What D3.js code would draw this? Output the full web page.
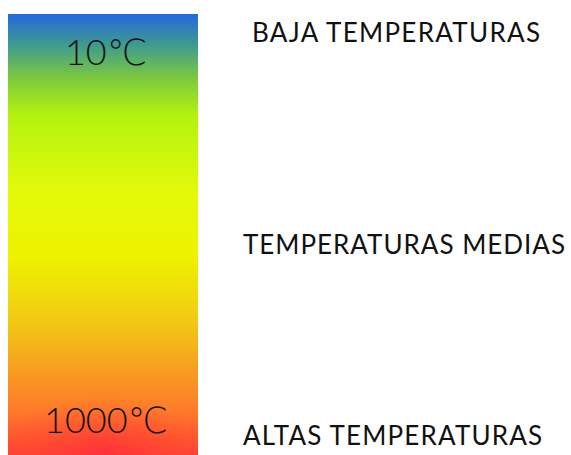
<!DOCTYPE html>
<html><head><meta charset="utf-8">
<script src="https://cdn.jsdelivr.net/npm/d3@7"></script>
<style>html,body{margin:0;padding:0;background:#fff;}svg{display:block;}</style>
</head><body>
<script>
// Data
const scaleLabels = ["10℃", "1000℃"];
const scaleValues = [10, 1000];
const zoneLabels = ["BAJA TEMPERATURAS", "TEMPERATURAS MEDIAS", "ALTAS TEMPERATURAS"];
const stopOffsets = [0, 0.07, 0.15, 0.23, 0.4, 0.55, 0.7, 0.8, 0.9, 1];
const stopColors = ["#2468dc", "#3f9a90", "#7fcc3a", "#b4f210", "#e2fa0a", "#eef200", "#f2c814", "#f7a020", "#ff7a2a", "#ff4232"];

const W = 571, H = 455;
const svg = d3.select("body").append("svg").attr("width", W).attr("height", H);
const defs = svg.append("defs");
const lg = defs.append("linearGradient").attr("id", "g").attr("x1", 0).attr("y1", 0).attr("x2", 0).attr("y2", 1);
lg.selectAll("stop").data(stopOffsets).join("stop")
  .attr("offset", d => d).attr("stop-color", (d, i) => stopColors[i]);
const rg = defs.append("radialGradient").attr("id", "r").attr("cx", 0.5).attr("cy", 1).attr("r", 0.6);
rg.append("stop").attr("offset", 0).attr("stop-color", "#ff2a3a").attr("stop-opacity", 0.8);
rg.append("stop").attr("offset", 1).attr("stop-color", "#ff5030").attr("stop-opacity", 0);

const barX = 8, barW = 190, barTop = 14, barBot = 455;
const y = d3.scaleLog().domain(scaleValues).range([55, 423]);

svg.append("rect").attr("x", barX).attr("y", barTop).attr("width", barW).attr("height", barBot - barTop).attr("fill", "url(#g)");
svg.append("rect").attr("x", barX).attr("y", 360).attr("width", barW).attr("height", barBot - 360).attr("fill", "url(#r)");

svg.selectAll("text.scale").data(scaleValues).join("text")
  .attr("class", "scale")
  .attr("x", barX + barW / 2 + 3)
  .attr("y", d => y(d) + 10)
  .attr("text-anchor", "middle")
  .attr("font-family", "Lato, 'DejaVu Sans', sans-serif")
  .attr("font-weight", 300)
  .attr("font-size", 36)
  .attr("fill", "#111")
  .text((d, i) => scaleLabels[i]);

const zy = d3.scalePoint().domain(zoneLabels).range([42, 445]);
const zx = [252, 243, 243];
const zw = [288, 322, 299];
svg.selectAll("text.zone").data(zoneLabels).join("text")
  .attr("class", "zone")
  .attr("x", (d, i) => zx[i])
  .attr("y", d => zy(d) + (d === zoneLabels[1] ? 10 : 0))
  .attr("font-family", "Lato, 'DejaVu Sans', sans-serif")
  .attr("font-size", 26)
  .attr("fill", "#111")
  .attr("textLength", (d, i) => zw[i])
  .attr("lengthAdjust", "spacing")
  .text(d => d);
</script>
</body></html>
